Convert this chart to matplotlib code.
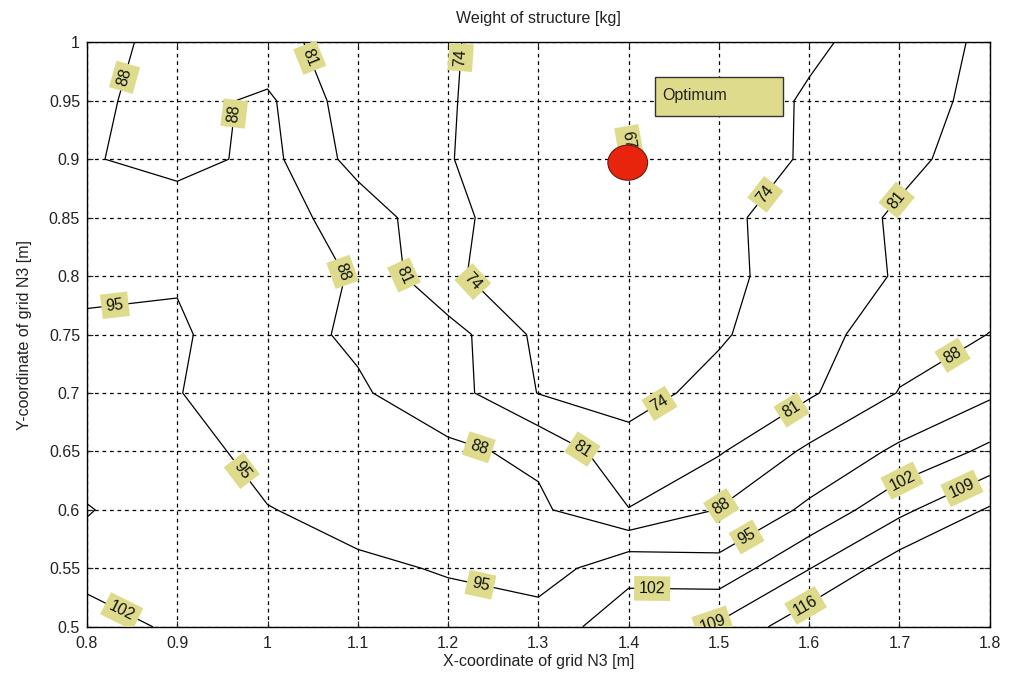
import numpy as np
import matplotlib.pyplot as plt
from matplotlib.patches import Ellipse, Rectangle

plt.rcParams['font.family'] = ['Liberation Sans', 'DejaVu Sans']

x_grid = [0.8, 0.9, 1.0, 1.1, 1.2, 1.3, 1.4, 1.5, 1.6, 1.7, 1.8]
y_grid = [0.5, 0.55, 0.6, 0.65, 0.7, 0.75, 0.8, 0.85, 0.9, 0.95, 1.0]

# weight of structure [kg], one row per y value (bottom to top)
weight = [
    [104.7, 101.0, 100.5, 99.0, 97.6, 99.2, 104.9, 110.2, 120.8, 130.0, 138.0],
    [99.9, 100.5, 98.0, 96.2, 94.5, 90.9, 100.5, 97.4, 108.8, 120.0, 128.0],
    [102.3, 99.0, 95.3, 92.5, 91.0, 89.3, 81.2, 88.3, 96.4, 107.3, 116.8],
    [99.5, 98.7, 92.0, 90.5, 89.3, 86.6, 76.2, 80.37, 89.3, 96.3, 103.56],
    [97.5, 95.26, 91.0, 88.8, 84.0, 73.8, 71.8, 75.95, 80.06, 88.3, 93.84],
    [95.8, 96.0, 90.4, 87.0, 84.0, 72.5, 70.0, 73.3, 78.1, 85.2, 88.1],
    [94.0, 94.4, 91.0, 87.5, 74.8, 71.0, 69.0, 73.0, 75.9, 81.76, 86.0],
    [91.5, 92.6, 90.7, 85.3, 75.5, 70.5, 68.0, 72.5, 77.3, 81.87, 85.0],
    [88.7, 85.2, 90.1, 78.4, 74.3, 70.0, 66.5, 69.0, 75.1, 79.45, 83.75],
    [89.2, 85.7, 89.25, 76.75, 74.6, 69.0, 68.0, 69.0, 75.0, 78.5, 82.7],
    [90.0, 86.2, 83.0, 78.0, 74.8, 69.5, 69.5, 70.5, 72.5, 77.9, 82.1],
]
levels = [67, 74, 81, 88, 95, 102, 109, 116]

# where the level labels sit
label_pos = [
    (0.842, 0.970), (0.964, 0.939), (1.091, 0.807), (1.233, 0.651), (1.503, 0.603), (1.759, 0.732),
    (1.047, 0.987), (1.152, 0.801), (1.344, 0.645), (1.581, 0.685), (1.697, 0.865),
    (1.215, 0.987), (1.222, 0.791), (1.435, 0.690), (1.553, 0.869),
    (1.394, 0.922),
    (0.831, 0.775), (0.969, 0.632), (1.235, 0.533), (1.529, 0.579),
    (0.839, 0.514), (1.426, 0.532), (1.704, 0.623),
    (1.492, 0.506), (1.770, 0.617),
    (1.594, 0.521),
]

optimum = (1.399, 0.897)

xticks = [0.8, 0.9, 1.0, 1.1, 1.2, 1.3, 1.4, 1.5, 1.6, 1.7, 1.8]
xtick_labels = ['0.8', '0.9', '1', '1.1', '1.2', '1.3', '1.4', '1.5', '1.6', '1.7', '1.8']
yticks = [0.5, 0.55, 0.6, 0.65, 0.7, 0.75, 0.8, 0.85, 0.9, 0.95, 1.0]
ytick_labels = ['0.5', '0.55', '0.6', '0.65', '0.7', '0.75', '0.8', '0.85', '0.9', '0.95', '1']

yellow = '#dedc8c'

fig = plt.figure(figsize=(10.11, 6.82), dpi=100)
ax = fig.add_axes([0.086, 0.081, 0.893, 0.857])

X, Y = np.meshgrid(x_grid, y_grid)
cs = ax.contour(X, Y, np.array(weight), levels=levels, colors='black', linewidths=0.9)
labels = ax.clabel(cs, levels, manual=label_pos, inline=False, fmt='%d', fontsize=11.5)
for t in labels:
    t.set_bbox(dict(boxstyle='square,pad=0.3', fc=yellow, ec='none'))
    t.set_zorder(5)
    t.set_color('#111111')
    if t.get_text() == '67':
        t.set_rotation(-80)

ax.add_patch(Ellipse(optimum, 0.044, 0.030, fc='#e8240c', ec='#6a1a10', lw=0.8, zorder=6))

ax.add_patch(Rectangle((1.429, 0.937), 0.142, 0.033, fc=yellow, ec='#333333', lw=1.0, zorder=6))
ax.text(1.437, 0.9545, 'Optimum', fontsize=11.5, color='#222222', va='center', ha='left', zorder=7)

ax.set_xlim(0.8, 1.8)
ax.set_ylim(0.5, 1.0)
ax.set_xticks(xticks)
ax.set_xticklabels(xtick_labels)
ax.set_yticks(yticks)
ax.set_yticklabels(ytick_labels)
ax.tick_params(direction='in', top=True, right=True, length=4, labelsize=11.5, colors='#222222')
ax.tick_params(axis='x', pad=7)
ax.tick_params(axis='y', pad=5)
ax.grid(True, color='black', linestyle=(0, (3, 3)), linewidth=0.9)
ax.set_axisbelow(True)
for s in ax.spines.values():
    s.set_linewidth(1.0)

ax.set_title('Weight of structure [kg]', fontsize=11.5, color='#222222', pad=14)
ax.set_xlabel('X-coordinate of grid N3 [m]', fontsize=11.5, color='#222222', labelpad=2)
ax.set_ylabel('Y-coordinate of grid N3 [m]', fontsize=11.5, color='#222222', labelpad=12)

fig.savefig('out.png', dpi=100)
